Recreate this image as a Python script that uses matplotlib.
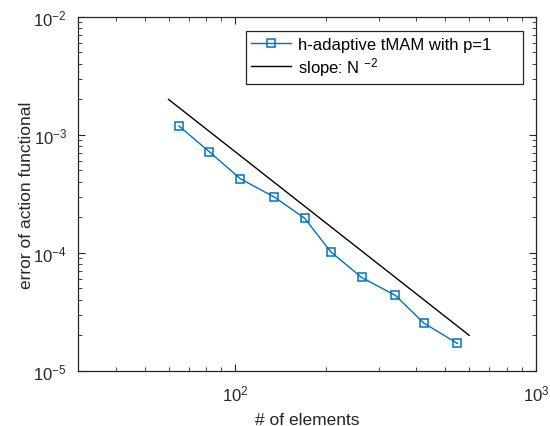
import numpy as np
import matplotlib
matplotlib.use("Agg")
import matplotlib.pyplot as plt
from matplotlib.ticker import LogLocator, NullFormatter, FuncFormatter

plt.rcParams["font.family"] = ["Liberation Sans", "DejaVu Sans"]
plt.rcParams["mathtext.fontset"] = "custom"
plt.rcParams["mathtext.rm"] = "Liberation Sans"
plt.rcParams["mathtext.it"] = "Liberation Sans"
plt.rcParams["mathtext.default"] = "regular"

# data
n_elem = [65, 82, 104, 135, 170, 208, 263, 341, 424, 548]
err = [1.19e-3, 7.2e-4, 4.25e-4, 2.97e-4, 1.97e-4, 1.02e-4, 6.2e-5, 4.36e-5, 2.54e-5, 1.71e-5]

# reference slope N^-2
slope_n = [60, 600]
slope_c = 7.2
slope_err = [slope_c / n**2 for n in slope_n]

fig = plt.figure(figsize=(5.5, 4.27), dpi=100)
ax = fig.add_axes([0.1418, 0.129, 0.8327, 0.829])

ax.plot(n_elem, err, "-s", color="#0072BD", lw=1.0, ms=5.5, mfc="none", mew=1.1,
        label="h-adaptive tMAM with p=1")
ax.plot(slope_n, slope_err, "-", color="black", lw=1.0, label="slope: N $^{-2}$")

ax.set_xscale("log")
ax.set_yscale("log")
ax.set_xlim(30, 1000)
ax.set_ylim(1e-5, 1e-2)


def pow_fmt(v, pos):
    e = int(round(np.log10(v)))
    return r"10$^{%d}$" % e


ax.xaxis.set_major_locator(LogLocator(base=10, numticks=10))
ax.yaxis.set_major_locator(LogLocator(base=10, numticks=10))
ax.xaxis.set_major_formatter(FuncFormatter(pow_fmt))
ax.yaxis.set_major_formatter(FuncFormatter(pow_fmt))
ax.xaxis.set_minor_locator(LogLocator(base=10, subs=np.arange(2, 10), numticks=20))
ax.yaxis.set_minor_locator(LogLocator(base=10, subs=np.arange(2, 10), numticks=20))
ax.xaxis.set_minor_formatter(NullFormatter())
ax.yaxis.set_minor_formatter(NullFormatter())

ax.tick_params(which="both", direction="in", top=True, right=True, colors="#262626",
               labelsize=12)
ax.tick_params(which="major", length=5, width=0.8)
ax.tick_params(which="minor", length=3, width=0.6)
ax.tick_params(axis="x", which="major", pad=9)
ax.tick_params(axis="y", which="major", pad=8)
for s in ax.spines.values():
    s.set_color("#262626")
    s.set_linewidth(0.9)

ax.set_xlabel("# of elements", fontsize=12.5, color="#262626")
ax.set_ylabel("error of action functional", fontsize=12.5, color="#262626")
ax.xaxis.set_label_coords(0.5, -0.115)
ax.yaxis.set_label_coords(-0.095, 0.5)

# MATLAB-like legend box, wider than its text
leg = ax.legend(loc="upper left", bbox_to_anchor=(0.366, 0.82, 0.606, 0.141),
                mode="expand", borderaxespad=0, fontsize=12, fancybox=False,
                framealpha=1, edgecolor="#262626", handlelength=2.4,
                handletextpad=0.4, borderpad=0.35, labelspacing=0.2)
leg.get_frame().set_linewidth(0.9)

fig.savefig("out.png", dpi=100)
